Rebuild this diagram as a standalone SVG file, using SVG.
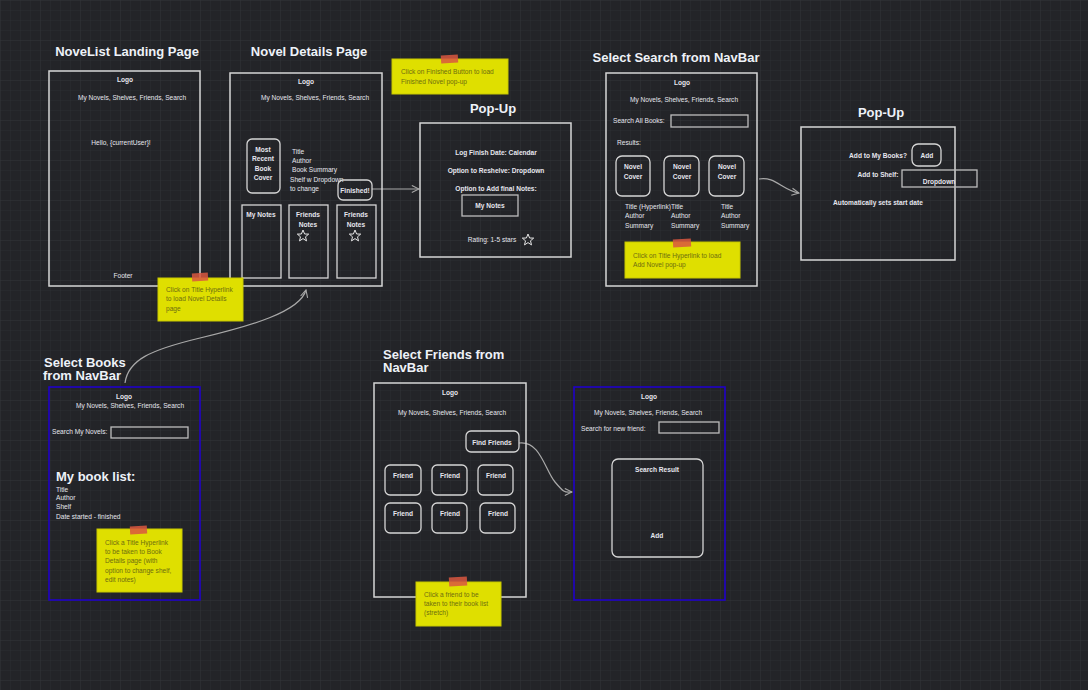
<svg xmlns="http://www.w3.org/2000/svg" width="1088" height="690" viewBox="0 0 1088 690">
<defs>
<pattern id="grid" width="10" height="10" patternUnits="userSpaceOnUse">
<path d="M10 0 L0 0 0 10" fill="none" stroke="#2c2e32" stroke-width="1"/>
</pattern>
<pattern id="grid2" width="40" height="40" patternUnits="userSpaceOnUse">
<path d="M40 0 L0 0 0 40" fill="none" stroke="#303236" stroke-width="1"/>
</pattern>
<marker id="arr" viewBox="0 0 10 10" refX="9" refY="5" markerWidth="9" markerHeight="9" orient="auto" markerUnits="userSpaceOnUse">
<path d="M1 1 L9 5 L1 9" fill="none" stroke="#a9a9a9" stroke-width="1.2"/>
</marker>
<path id="star" d="M0,-6 L1.6,-2 L5.7,-1.9 L2.5,0.8 L3.5,4.9 L0,2.6 L-3.5,4.9 L-2.5,0.8 L-5.7,-1.9 L-1.6,-2 Z"/>
</defs>
<style>
.frame{fill:none;stroke:#d6d6d6;stroke-width:1.5}
.blue{fill:none;stroke:#2000c8;stroke-width:1.6}
.rbox{fill:none;stroke:#d6d6d6;stroke-width:1.3}
.input{fill:none;stroke:#bdbdbd;stroke-width:1.3}
.title{font-family:"Liberation Sans",Arial,sans-serif;font-size:13px;font-weight:bold;fill:#eef2f8}
.t{font-family:"Liberation Sans",Arial,sans-serif;font-size:6.6px;fill:#e6e6ee}
.b{font-weight:bold}
.c{text-anchor:middle}
.sticky{fill:#dfdf00;stroke:#c8c800;stroke-width:1}
.tape{fill:#d9573f;opacity:0.85}
.st{font-family:"Liberation Sans",Arial,sans-serif;font-size:6.6px;fill:#6e6e10}
.conn{fill:none;stroke:#a9a9a9;stroke-width:1.2}
.starS{fill:none;stroke:#e6e6e6;stroke-width:1}
</style>
<rect width="1088" height="690" fill="#232428"/>
<rect width="1088" height="690" fill="url(#grid)"/>
<rect width="1088" height="690" fill="url(#grid2)"/>

<g id="connectors">
<path class="conn" d="M372 189 L419 189" marker-end="url(#arr)"/>
<path class="conn" d="M759 179 C 775 176, 782 190, 799 193" marker-end="url(#arr)"/>
<path class="conn" d="M125 383 C 128 360, 150 350, 200 338 S 300 312, 306 290" marker-end="url(#arr)"/>
<path class="conn" d="M519 443 C 540 440, 545 470, 555 482 S 565 492, 572 492" marker-end="url(#arr)"/>
</g>

<g id="landing-page">
<text class="title c" x="127" y="56">NoveList Landing Page</text>
<rect class="frame" x="49" y="71" width="151" height="215"/>
<text class="t b c" x="125" y="82">Logo</text>
<text class="t c" x="132" y="100">My Novels, Shelves, Friends, Search</text>
<text class="t c" x="121" y="145">Hello, {currentUser}!</text>
<text class="t c" x="123" y="278">Footer</text>
</g>

<g id="novel-details-page">
<text class="title c" x="309" y="56">Novel Details Page</text>
<rect class="frame" x="230" y="73" width="152" height="213"/>
<text class="t b c" x="306" y="84">Logo</text>
<text class="t c" x="315" y="100">My Novels, Shelves, Friends, Search</text>
<rect class="rbox" x="247" y="139" width="33" height="54" rx="5"/>
<text class="t b c" x="263" y="152">Most</text>
<text class="t b c" x="263" y="161">Recent</text>
<text class="t b c" x="263" y="171">Book</text>
<text class="t b c" x="263" y="180">Cover</text>
<text class="t" x="292" y="154">Title</text>
<text class="t" x="292" y="163">Author</text>
<text class="t" x="292" y="172">Book Summary</text>
<text class="t" x="290" y="182">Shelf w Dropdown</text>
<text class="t" x="290" y="191">to change</text>
<rect class="rbox" x="338" y="180" width="34" height="20" rx="5"/>
<text class="t b c" x="355" y="193">Finished!</text>
<rect class="rbox" x="242" y="205" width="39" height="73"/>
<text class="t b c" x="261" y="217">My Notes</text>
<rect class="rbox" x="289" y="205" width="39" height="73"/>
<text class="t b c" x="308" y="217">Friends</text>
<text class="t b c" x="308" y="227">Notes</text>
<use href="#star" class="starS" x="303" y="236"/>
<rect class="rbox" x="337" y="205" width="39" height="73"/>
<text class="t b c" x="356" y="217">Friends</text>
<text class="t b c" x="356" y="227">Notes</text>
<use href="#star" class="starS" x="355" y="236"/>
</g>

<g id="popup-finished">
<text class="title c" x="493" y="113">Pop-Up</text>
<rect class="frame" x="420" y="123" width="151" height="134"/>
<text class="t b c" x="496" y="155">Log Finish Date: Calendar</text>
<text class="t b c" x="496" y="173">Option to Reshelve: Dropdown</text>
<text class="t b c" x="496" y="191">Option to Add final Notes:</text>
<rect class="input" x="462" y="195" width="56" height="21"/>
<text class="t b c" x="490" y="208">My Notes</text>
<text class="t c" x="492" y="242">Rating: 1-5 stars</text>
<use href="#star" class="starS" x="528" y="240"/>
</g>

<g id="search-page">
<text class="title c" x="676" y="62">Select Search from NavBar</text>
<rect class="frame" x="606" y="73" width="151" height="213"/>
<text class="t b c" x="682" y="85">Logo</text>
<text class="t c" x="684" y="102">My Novels, Shelves, Friends, Search</text>
<text class="t" x="613" y="123">Search All Books:</text>
<rect class="input" x="671" y="115" width="77" height="12"/>
<text class="t" x="617" y="145">Results:</text>
<rect class="rbox" x="616" y="156" width="34" height="40" rx="6"/>
<text class="t b c" x="633" y="169">Novel</text>
<text class="t b c" x="633" y="179">Cover</text>
<rect class="rbox" x="664" y="156" width="35" height="40" rx="6"/>
<text class="t b c" x="682" y="169">Novel</text>
<text class="t b c" x="682" y="179">Cover</text>
<rect class="rbox" x="709" y="156" width="35" height="40" rx="6"/>
<text class="t b c" x="727" y="169">Novel</text>
<text class="t b c" x="727" y="179">Cover</text>
<text class="t" x="625" y="209">Title (Hyperlink)Title</text>
<text class="t" x="625" y="218">Author</text>
<text class="t" x="625" y="228">Summary</text>
<text class="t" x="671" y="218">Author</text>
<text class="t" x="671" y="228">Summary</text>
<text class="t" x="721" y="209">Title</text>
<text class="t" x="721" y="218">Author</text>
<text class="t" x="721" y="228">Summary</text>
</g>

<g id="popup-add">
<text class="title c" x="881" y="117">Pop-Up</text>
<rect class="frame" x="801" y="127" width="154" height="133"/>
<text class="t b" x="907" y="158" text-anchor="end">Add to My Books?</text>
<rect class="rbox" x="912" y="144" width="29" height="22" rx="6"/>
<text class="t b c" x="927" y="158">Add</text>
<text class="t b c" x="878" y="177">Add to Shelf:</text>
<rect class="input" x="902" y="170" width="75" height="17"/>
<text class="t b c" x="939" y="184">Dropdown</text>
<text class="t b c" x="878" y="205">Automatically sets start date</text>
</g>

<g id="books-page">
<text class="title" x="44" y="367">Select Books</text>
<text class="title" x="43" y="380">from NavBar</text>
<rect class="blue" x="49" y="387" width="151" height="213"/>
<text class="t b c" x="124" y="399">Logo</text>
<text class="t c" x="130" y="408">My Novels, Shelves, Friends, Search</text>
<text class="t" x="52" y="434">Search My Novels:</text>
<rect class="input" x="111" y="427" width="77" height="11"/>
<text class="title" x="56" y="481">My book list:</text>
<text class="t" x="56" y="492">Title</text>
<text class="t" x="56" y="500">Author</text>
<text class="t" x="56" y="509">Shelf</text>
<text class="t" x="56" y="519">Date started - finished</text>
</g>

<g id="friends-page">
<text class="title" x="383" y="359">Select Friends from</text>
<text class="title" x="383" y="372">NavBar</text>
<rect class="frame" x="374" y="383" width="152" height="214"/>
<text class="t b c" x="450" y="395">Logo</text>
<text class="t c" x="452" y="415">My Novels, Shelves, Friends, Search</text>
<rect class="rbox" x="466" y="431" width="53" height="21" rx="5"/>
<text class="t b c" x="492" y="445">Find Friends</text>
<rect class="rbox" x="385" y="465" width="36" height="30" rx="5"/>
<text class="t b c" x="403" y="478">Friend</text>
<rect class="rbox" x="432" y="465" width="35" height="30" rx="5"/>
<text class="t b c" x="450" y="478">Friend</text>
<rect class="rbox" x="478" y="465" width="35" height="30" rx="5"/>
<text class="t b c" x="496" y="478">Friend</text>
<rect class="rbox" x="385" y="503" width="36" height="30" rx="5"/>
<text class="t b c" x="403" y="516">Friend</text>
<rect class="rbox" x="432" y="503" width="35" height="30" rx="5"/>
<text class="t b c" x="450" y="516">Friend</text>
<rect class="rbox" x="480" y="503" width="35" height="30" rx="5"/>
<text class="t b c" x="498" y="516">Friend</text>
</g>

<g id="find-friends-page">
<rect class="blue" x="574" y="387" width="151" height="213"/>
<text class="t b c" x="649" y="399">Logo</text>
<text class="t c" x="648" y="415">My Novels, Shelves, Friends, Search</text>
<text class="t" x="581" y="431">Search for new friend:</text>
<rect class="input" x="659" y="422" width="60" height="11"/>
<rect class="rbox" x="612" y="459" width="91" height="98" rx="6"/>
<text class="t b c" x="657" y="472">Search Result</text>
<text class="t b c" x="657" y="538">Add</text>
</g>

<g id="note-finished">
<rect class="sticky" x="392" y="59" width="116" height="35"/>
<rect class="tape" x="441" y="55" width="17" height="8" transform="rotate(-3 449 59)"/>
<text class="st" x="401" y="74">Click on Finished Button to load</text>
<text class="st" x="401" y="84">Finished Novel pop-up</text>
</g>

<g id="note-landing">
<rect class="sticky" x="158" y="278" width="85" height="43"/>
<rect class="tape" x="192" y="273" width="16" height="8" transform="rotate(-3 200 277)"/>
<text class="st" x="166" y="292">Click on Title Hyperlink</text>
<text class="st" x="166" y="301">to load Novel Details</text>
<text class="st" x="166" y="311">page</text>
</g>

<g id="note-search">
<rect class="sticky" x="625" y="242" width="115" height="36"/>
<rect class="tape" x="673" y="239" width="18" height="8" transform="rotate(-3 682 243)"/>
<text class="st" x="633" y="258">Click on Title Hyperlink to load</text>
<text class="st" x="633" y="267">Add Novel pop-up</text>
</g>

<g id="note-books">
<rect class="sticky" x="97" y="529" width="85" height="63"/>
<rect class="tape" x="130" y="526" width="17" height="8" transform="rotate(-3 138 530)"/>
<text class="st" x="105" y="545">Click a Title Hyperlink</text>
<text class="st" x="105" y="554">to be taken to Book</text>
<text class="st" x="105" y="563">Details page (with</text>
<text class="st" x="105" y="573">option to change shelf,</text>
<text class="st" x="105" y="582">edit notes)</text>
</g>

<g id="note-friends">
<rect class="sticky" x="416" y="582" width="85" height="44"/>
<rect class="tape" x="449" y="577" width="18" height="9" transform="rotate(-3 458 581)"/>
<text class="st" x="424" y="597">Click a friend to be</text>
<text class="st" x="424" y="606">taken to their book list</text>
<text class="st" x="424" y="615">(stretch)</text>
</g>
</svg>
